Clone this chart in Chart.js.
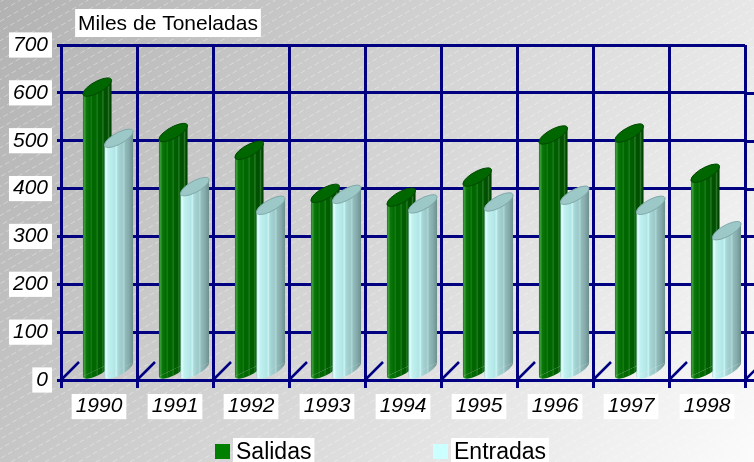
<!DOCTYPE html>
<html>
<head>
<meta charset="utf-8">
<script src="https://cdn.jsdelivr.net/npm/chart.js@4.4.1/dist/chart.umd.min.js"></script>
<style>
  html, body { margin: 0; padding: 0; background: #fff; }
  #wrap { width: 754px; height: 462px; position: relative; }
</style>
</head>
<body>
<div id="wrap"><canvas id="chart" width="754" height="462"></canvas></div>
<script>
// Data
var years = ['1990', '1991', '1992', '1993', '1994', '1995', '1996', '1997', '1998'];
var salidas = [612, 517, 480, 390, 382, 424, 512, 516, 432];
var entradas = [505, 404, 365, 388, 368, 372, 386, 365, 312];
var seriesNames = ['Salidas', 'Entradas'];
var yTickValues = [0, 100, 200, 300, 400, 500, 600, 700];
var chartTitle = 'Miles de Toneladas';

var navy = '#000080';
var font = 'Liberation Sans, Arial, sans-serif';
var legendColors = ['#008000', '#ccffff'];

//Shading for the cylinders (stop, colour)
var greenStops = [[0, '#1a7f1a'], [0.06, '#3c9c3c'], [0.12, '#0b770b'], [0.25, '#006c00'], [0.29, '#1a801a'],
  [0.33, '#006600'], [0.45, '#006800'], [0.5, '#1f7f1f'], [0.54, '#005f00'], [0.65, '#005c00'],
  [0.7, '#2a7f2a'], [0.74, '#005200'], [0.85, '#004f00'], [0.9, '#2f7a2f'], [0.94, '#004600'], [1, '#003f00']];
var cyanStops = [[0, '#9ecfcf'], [0.05, '#e6ffff'], [0.12, '#c2f2f2'], [0.35, '#b2e6e6'], [0.42, '#c6f2f2'],
  [0.47, '#a8d8d8'], [0.62, '#9cc8c8'], [0.68, '#b0d8d8'], [0.72, '#92bcbc'], [0.85, '#86acac'], [1, '#6e8f8f']];
var caps = [['#006600', '#004800'], ['#9cc8c8', '#80a8a8']];

function drawCylinder(ctx, bar, stops, cap) {
  var w = bar.width, x0 = bar.x - w / 2, x1 = bar.x + w / 2;
  var k = 0.47, ry = 6.3, dy = k * w / 2;
  var yT = bar.y, yB = bar.base - 9;
  var g = ctx.createLinearGradient(x0, 0, x1, 0);
  stops.forEach(function (s) { g.addColorStop(s[0], s[1]); });
  ctx.fillStyle = g;
  ctx.beginPath();
  ctx.moveTo(x0, yT + dy);
  ctx.lineTo(x1, yT - dy);
  ctx.lineTo(x1, yB - dy);
  ctx.lineTo(x0, yB + dy);
  ctx.closePath();
  ctx.fill();
  //rounded bottom
  ctx.save();
  ctx.translate(bar.x, yB);
  ctx.transform(1, -k, 0, 1, 0, 0);
  ctx.beginPath();
  ctx.ellipse(0, 0, w / 2, ry, 0, 0, Math.PI);
  ctx.restore();
  ctx.fill();
  //top cap
  ctx.save();
  ctx.translate(bar.x, yT);
  ctx.transform(1, -k, 0, 1, 0, 0);
  ctx.beginPath();
  ctx.ellipse(0, 0, w / 2, ry, 0, 0, Math.PI * 2);
  ctx.restore();
  ctx.fillStyle = cap[0];
  ctx.fill();
  ctx.strokeStyle = cap[1];
  ctx.lineWidth = 1;
  ctx.stroke();
}

function whiteBoxText(ctx, text, x, y, padX, h, align) {
  var tw = ctx.measureText(text).width;
  var left = align === 'center' ? x - tw / 2 : x;
  ctx.fillStyle = '#fff';
  ctx.fillRect(left - padX, y - h / 2, tw + padX * 2, h);
  ctx.fillStyle = '#000';
  ctx.textBaseline = 'middle';
  ctx.textAlign = 'left';
  ctx.fillText(text, left, y + 1);
}

var decor = {
  id: 'decor',
  beforeDraw: function (chart) {
    var ctx = chart.ctx, w = chart.width, h = chart.height;
    ctx.save();
    var g = ctx.createLinearGradient(0, 0, w, h);
    g.addColorStop(0, '#b2b2b2');
    g.addColorStop(1, '#fbfbfb');
    ctx.fillStyle = g;
    ctx.fillRect(0, 0, w, h);
    ctx.strokeStyle = 'rgba(255,255,255,0.35)';
    ctx.lineWidth = 1;
    ctx.setLineDash([5, 3]);
    for (var c = -h * 2; c < w; c += 17) {
      ctx.beginPath();
      ctx.moveTo(c, h);
      ctx.lineTo(c + h * 1.75, 0);
      ctx.stroke();
    }
    ctx.restore();
  },
  beforeDatasetsDraw: function (chart) {
    var ctx = chart.ctx, area = chart.chartArea;
    var step = (area.right - area.left) / years.length;
    ctx.save();
    ctx.strokeStyle = navy;
    ctx.lineWidth = 2.5;
    for (var i = 0; i <= years.length; i++) {
      var x = area.left + i * step;
      ctx.beginPath();
      ctx.moveTo(x, area.bottom);
      ctx.lineTo(x + 18, area.bottom - 18);
      ctx.stroke();
    }
    ctx.restore();
  },
  afterDatasetsDraw: function (chart) {
    var ctx = chart.ctx;
    ctx.save();
    ctx.translate(9, 0);
    [0, 1].forEach(function (d) {
      chart.getDatasetMeta(d).data.forEach(function (bar) {
        drawCylinder(ctx, bar, d === 0 ? greenStops : cyanStops, caps[d]);
      });
    });
    ctx.restore();
  },
  afterDraw: function (chart) {
    var ctx = chart.ctx, area = chart.chartArea, ys = chart.scales.y;
    ctx.save();
    //grid lines run on past the last column
    ctx.strokeStyle = navy;
    ctx.lineWidth = 3;
    yTickValues.slice(0, -1).forEach(function (v) {
      var y = Math.round(ys.getPixelForValue(v)) + 0.5;
      ctx.beginPath();
      ctx.moveTo(area.right, y);
      ctx.lineTo(chart.width, y);
      ctx.stroke();
    });
    //title
    ctx.font = '21px ' + font;
    whiteBoxText(ctx, chartTitle, 168, 23, 3, 28, 'center');
    //legend
    ctx.font = '23px ' + font;
    var lx = [215, 433];
    seriesNames.forEach(function (name, i) {
      ctx.fillStyle = legendColors[i];
      ctx.fillRect(lx[i], 444, 15, 15);
      whiteBoxText(ctx, name, lx[i] + 21, 452, 3, 28, 'left');
    });
    ctx.restore();
  }
};

var ctx = document.getElementById('chart');
var chart = new Chart(ctx, {
  type: 'bar',
  data: {
    labels: years,
    datasets: [{
      label: seriesNames[0],
      data: salidas,
      backgroundColor: 'rgba(0,0,0,0)',
      borderWidth: 0
    }, {
      label: seriesNames[1],
      data: entradas,
      backgroundColor: 'rgba(0,0,0,0)',
      borderWidth: 0
    }]
  },
  options: {
    responsive: false,
    animation: false,
    events: [],
    datasets: {
      bar: { categoryPercentage: 0.566, barPercentage: 1.33 }
    },
    layout: { padding: { left: 0, top: 45, right: 9, bottom: 0 } },
    plugins: {
      legend: { display: false },
      tooltip: { enabled: false },
      title: { display: false }
    },
    scales: {
      x: {
        afterFit: function (scale) { scale.height = 82; },
        grid: { color: navy, lineWidth: 3, tickLength: 8, offset: true },
        border: { color: navy, width: 3 },
        ticks: {
          color: '#000',
          font: { family: font, size: 21, style: 'italic' },
          padding: 6,
          maxRotation: 0,
          showLabelBackdrop: true,
          backdropColor: '#fff',
          backdropPadding: { x: 4, y: 0 }
        }
      },
      y: {
        min: 0,
        max: 700,
        afterFit: function (scale) { scale.width = 61; },
        afterBuildTicks: function (scale) {
          scale.ticks = yTickValues.map(function (v) { return { value: v }; });
        },
        grid: { color: navy, lineWidth: 3, tickLength: 4 },
        border: { color: navy, width: 3 },
        ticks: {
          color: '#000',
          font: { family: font, size: 21, style: 'italic' },
          padding: 9,
          showLabelBackdrop: true,
          backdropColor: '#fff',
          backdropPadding: { x: 4, y: 0 }
        }
      }
    }
  },
  plugins: [decor]
});
</script>
</body>
</html>
